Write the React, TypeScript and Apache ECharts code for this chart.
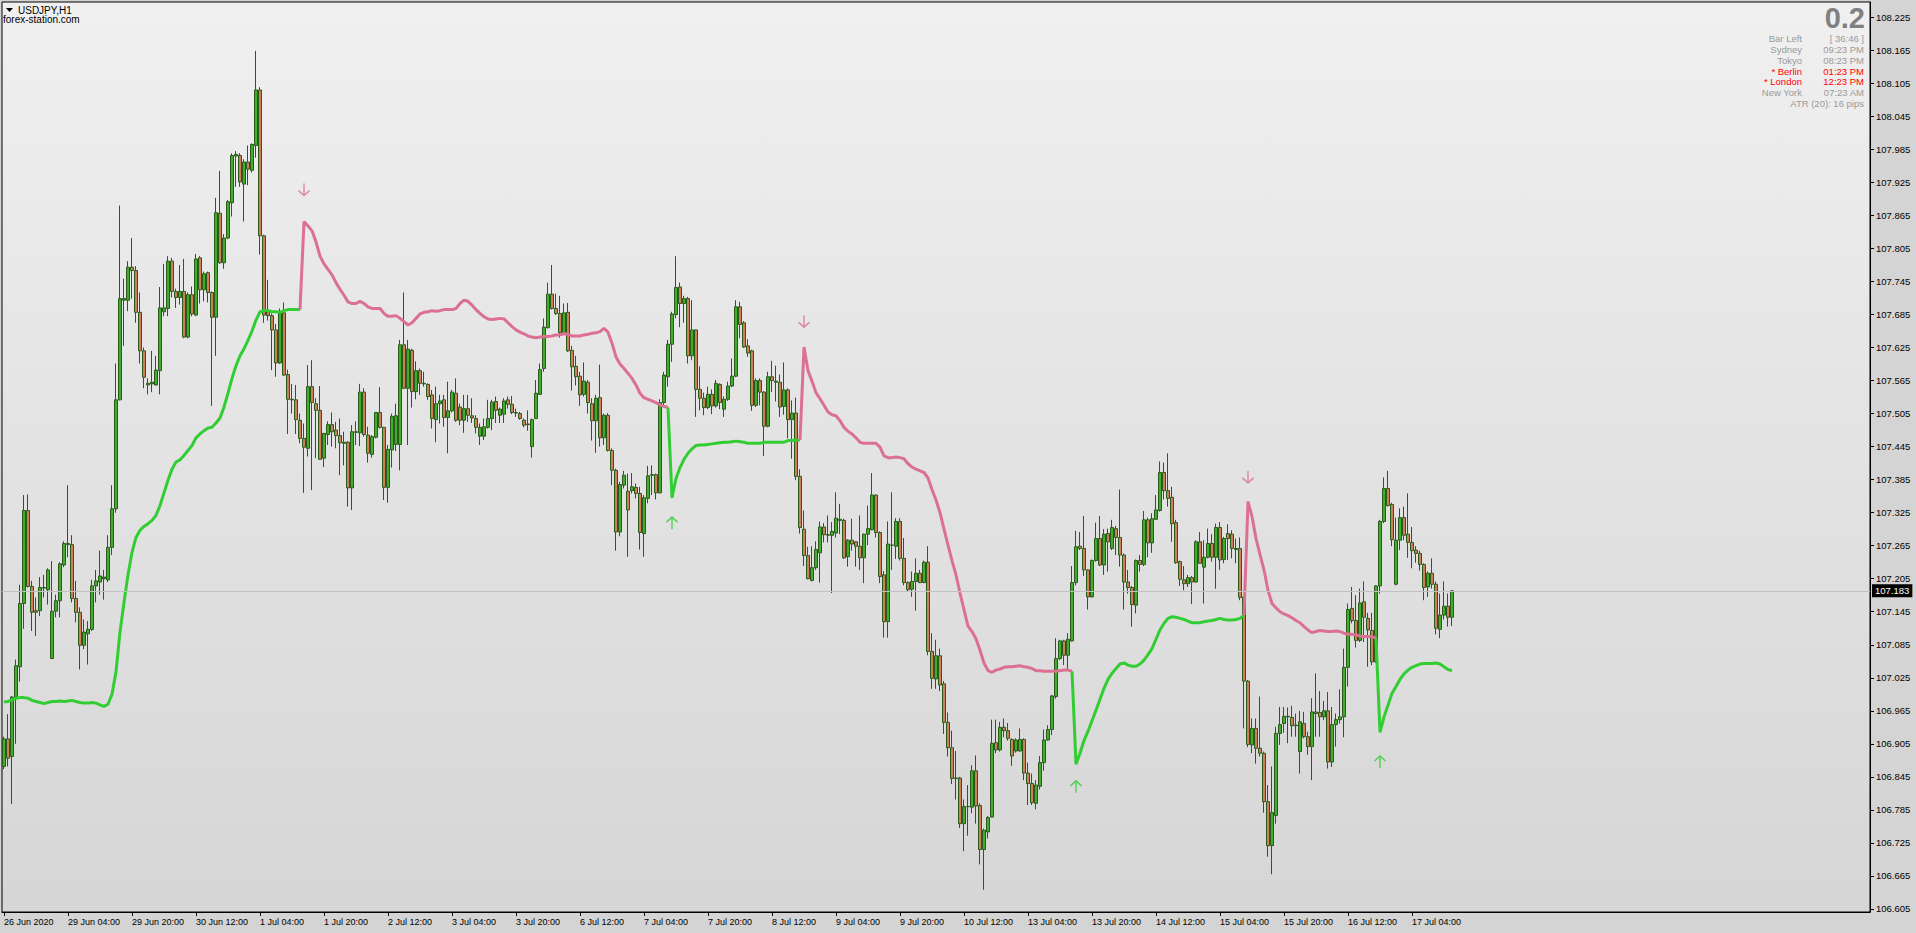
import React, { useEffect, useRef } from "react";
import * as echarts from "echarts";

// ---------- axis texts ----------
const xTickLabels = [
  "26 Jun 2020", "29 Jun 04:00", "29 Jun 20:00", "30 Jun 12:00", "1 Jul 04:00", "1 Jul 20:00",
  "2 Jul 12:00", "3 Jul 04:00", "3 Jul 20:00", "6 Jul 12:00", "7 Jul 04:00", "7 Jul 20:00",
  "8 Jul 12:00", "9 Jul 04:00", "9 Jul 20:00", "10 Jul 12:00", "13 Jul 04:00", "13 Jul 20:00",
  "14 Jul 12:00", "15 Jul 04:00", "15 Jul 20:00", "16 Jul 12:00", "17 Jul 04:00",
];
const TICK_EVERY = 16;
const SLOT_COUNT = 467;

const yTicks = [
  106.605, 106.665, 106.725, 106.785, 106.845, 106.905, 106.965, 107.025, 107.085, 107.145,
  107.205, 107.265, 107.325, 107.385, 107.445, 107.505, 107.565, 107.625, 107.685, 107.745,
  107.805, 107.865, 107.925, 107.985, 108.045, 108.105, 108.165, 108.225,
];
const Y_MIN = 106.5995;
const Y_MAX = 108.2528;

// ---------- OHLC (H1 bars) ----------
const opens = [
  106.864,106.914,106.882,106.990,107.045,107.160,107.329,107.191,107.147,107.147,
  107.189,107.185,107.060,107.146,107.165,107.230,107.269,107.267,107.169,107.144,
  107.084,107.105,107.113,107.192,107.199,107.205,107.203,107.262,107.332,107.530,
  107.711,107.711,107.771,107.765,107.689,107.619,107.560,107.559,107.557,107.583,
  107.690,107.696,107.782,107.727,107.716,107.727,107.644,107.721,107.684,107.788,
  107.730,107.761,107.725,107.680,107.869,107.779,107.824,107.888,107.973,107.974,
  107.922,107.962,107.947,107.992,108.093,107.828,107.690,107.683,107.657,107.597,
  107.688,107.576,107.531,107.530,107.493,107.460,107.442,107.554,107.523,107.511,
  107.424,107.467,107.485,107.475,107.465,107.453,107.453,107.370,107.472,107.470,
  107.544,107.466,107.431,107.462,107.507,107.480,107.371,107.439,107.449,107.449,
  107.630,107.551,107.620,107.545,107.583,107.560,107.558,107.539,107.494,107.523,
  107.530,107.498,107.510,107.542,107.517,107.493,107.514,107.501,107.496,107.464,
  107.464,107.480,107.496,107.527,107.502,107.504,107.530,107.522,107.507,107.505,
  107.493,107.486,107.445,107.496,107.540,107.587,107.661,107.722,107.696,107.687,
  107.652,107.689,107.620,107.591,107.573,107.540,107.562,107.523,107.492,107.534,
  107.461,107.502,107.438,107.402,107.290,107.375,107.364,107.365,107.371,107.360,
  107.287,107.351,107.393,107.394,107.361,107.525,107.572,107.631,107.685,107.735,
  107.705,107.714,107.610,107.657,107.549,107.533,107.516,107.540,107.519,107.558,
  107.513,107.531,107.555,107.573,107.699,107.670,107.628,107.619,107.520,107.565,
  107.544,107.482,107.572,107.564,107.562,107.518,107.548,107.494,107.506,107.391,
  107.295,107.247,107.202,107.225,107.252,107.299,107.285,107.284,107.288,107.311,
  107.311,107.245,107.275,107.272,107.264,107.243,107.286,107.294,107.357,107.289,
  107.212,107.127,107.266,107.264,107.309,107.242,107.198,107.186,107.200,107.215,
  107.198,107.235,107.073,107.023,107.065,107.014,106.944,106.898,106.842,106.843,
  106.760,106.791,106.790,106.856,106.793,106.713,106.745,106.772,106.907,106.894,
  106.935,106.929,106.913,106.892,106.892,106.913,106.852,106.833,106.797,106.828,
  106.871,106.912,106.931,106.991,107.060,107.092,107.066,107.092,107.198,107.264,
  107.260,107.221,107.172,107.238,107.278,107.230,107.287,107.260,107.296,107.280,
  107.248,107.199,107.189,107.157,107.238,107.231,107.312,107.270,107.313,107.329,
  107.398,107.365,107.353,107.307,107.236,107.203,107.196,107.207,107.199,107.272,
  107.226,107.244,107.269,107.244,107.298,107.240,107.287,107.286,107.260,107.260,
  107.172,107.019,106.903,106.933,106.897,106.888,106.800,106.720,106.775,106.924,
  106.942,106.954,106.953,106.939,106.891,106.942,106.918,106.900,106.963,106.962,
  106.954,106.965,106.872,106.940,106.949,106.954,107.044,107.151,107.129,107.093,
  107.163,107.133,107.111,107.054,107.192,107.309,107.369,107.340,107.195,107.275,
  107.316,107.286,107.271,107.257,107.251,107.231,107.190,107.215,107.195,107.113,
  107.139,107.155,107.135,
];
const highs = [
  106.918,106.959,106.992,107.058,107.194,107.357,107.358,107.201,107.171,107.208,
  107.212,107.224,107.237,107.176,107.235,107.273,107.375,107.284,107.201,107.153,
  107.131,107.128,107.203,107.221,107.256,107.221,107.284,107.375,107.596,107.883,
  107.750,107.782,107.824,107.773,107.725,107.625,107.569,107.619,107.610,107.735,
  107.777,107.791,107.788,107.732,107.775,107.786,107.725,107.736,107.795,107.791,
  107.763,107.763,107.727,107.897,107.946,107.831,107.893,107.978,107.982,107.978,
  107.967,107.992,107.996,108.164,108.098,107.830,107.748,107.687,107.668,107.696,
  107.707,107.585,107.559,107.557,107.505,107.487,107.593,107.602,107.533,107.555,
  107.470,107.491,107.507,107.490,107.496,107.472,107.455,107.484,107.491,107.559,
  107.551,107.481,107.466,107.508,107.553,107.481,107.448,107.505,107.523,107.639,
  107.725,107.639,107.623,107.600,107.587,107.581,107.560,107.548,107.554,107.539,
  107.539,107.563,107.548,107.569,107.523,107.539,107.539,107.533,107.502,107.487,
  107.496,107.530,107.530,107.536,107.516,107.533,107.536,107.537,107.514,107.508,
  107.496,107.511,107.496,107.566,107.596,107.678,107.743,107.775,107.723,107.719,
  107.705,107.706,107.628,107.610,107.581,107.598,107.566,107.533,107.539,107.594,
  107.505,107.506,107.442,107.405,107.381,107.401,107.396,107.397,107.378,107.372,
  107.357,107.410,107.411,107.396,107.531,107.581,107.639,107.690,107.791,107.743,
  107.719,107.717,107.711,107.658,107.591,107.543,107.554,107.549,107.566,107.560,
  107.536,107.563,107.605,107.711,107.708,107.673,107.640,107.621,107.569,107.569,
  107.546,107.581,107.601,107.592,107.576,107.598,107.551,107.529,107.534,107.404,
  107.329,107.263,107.264,107.273,107.309,107.306,107.320,107.308,107.362,107.341,
  107.314,107.277,107.314,107.273,107.320,107.287,107.338,107.397,107.358,107.291,
  107.219,107.309,107.362,107.315,107.315,107.279,107.200,107.218,107.242,107.221,
  107.238,107.264,107.106,107.094,107.078,107.019,106.962,106.929,106.892,106.845,
  106.804,106.830,106.866,106.884,106.797,106.751,106.774,106.949,106.949,106.945,
  106.951,106.943,106.915,106.915,106.933,106.915,106.871,106.851,106.839,106.883,
  106.931,106.939,106.994,107.097,107.094,107.094,107.106,107.228,107.292,107.290,
  107.319,107.222,107.240,107.307,107.319,107.295,107.296,107.312,107.301,107.367,
  107.251,107.221,107.192,107.240,107.248,107.328,107.316,107.324,107.357,107.418,
  107.416,107.433,107.372,107.312,107.238,107.228,107.212,107.210,107.275,107.290,
  107.275,107.296,107.286,107.305,107.308,107.281,107.304,107.293,107.278,107.280,
  107.175,107.021,106.951,106.951,106.991,106.891,106.830,106.864,106.936,106.972,
  106.972,106.971,106.974,106.960,106.965,106.963,106.927,106.988,107.033,107.001,
  106.983,106.999,106.972,106.960,107.004,107.078,107.160,107.190,107.175,107.187,
  107.200,107.143,107.143,107.193,107.312,107.389,107.401,107.343,107.316,107.333,
  107.336,107.360,107.299,107.264,107.256,107.233,107.218,107.242,107.200,107.178,
  107.200,107.178,107.184,
];
const lows = [
  106.859,106.864,106.796,106.905,107.018,107.114,107.189,107.110,107.101,107.137,
  107.171,107.158,107.060,107.135,107.135,107.226,107.244,107.162,107.126,107.040,
  107.077,107.049,107.110,107.162,107.176,107.167,107.199,107.248,107.325,107.529,
  107.628,107.691,107.714,107.670,107.596,107.551,107.540,107.544,107.556,107.540,
  107.682,107.682,107.716,107.697,107.703,107.642,107.642,107.682,107.682,107.705,
  107.709,107.707,107.519,107.610,107.777,107.768,107.822,107.863,107.917,107.917,
  107.854,107.920,107.943,107.970,107.794,107.670,107.674,107.584,107.572,107.595,
  107.573,107.468,107.505,107.468,107.451,107.361,107.427,107.366,107.424,107.421,
  107.408,107.448,107.445,107.442,107.393,107.411,107.336,107.330,107.448,107.446,
  107.463,107.416,107.425,107.460,107.478,107.348,107.343,107.407,107.437,107.402,
  107.550,107.448,107.516,107.531,107.539,107.554,107.530,107.478,107.453,107.487,
  107.481,107.433,107.507,107.490,107.484,107.470,107.490,107.488,107.469,107.448,
  107.457,107.478,107.475,107.488,107.488,107.488,107.514,107.504,107.499,107.494,
  107.480,107.474,107.425,107.495,107.539,107.581,107.660,107.694,107.684,107.643,
  107.649,107.617,107.547,107.556,107.519,107.536,107.505,107.456,107.434,107.445,
  107.448,107.436,107.375,107.256,107.282,107.369,107.245,107.360,107.351,107.258,
  107.245,107.342,107.357,107.349,107.360,107.518,107.554,107.599,107.678,107.662,
  107.670,107.596,107.602,107.499,107.511,107.502,107.513,107.504,107.516,107.513,
  107.499,107.528,107.553,107.571,107.642,107.624,107.608,107.510,107.517,107.520,
  107.428,107.480,107.544,107.527,107.499,107.503,107.460,107.423,107.384,107.287,
  107.228,107.204,107.200,107.221,107.198,107.271,107.271,107.179,107.280,107.286,
  107.241,107.227,107.256,107.227,107.221,107.197,107.266,107.293,107.280,107.197,
  107.098,107.098,107.221,107.241,107.238,107.193,107.181,107.172,107.147,107.197,
  107.197,107.066,107.005,107.005,107.001,106.923,106.882,106.832,106.804,106.752,
  106.710,106.738,106.779,106.760,106.686,106.640,106.733,106.771,106.888,106.891,
  106.917,106.911,106.865,106.889,106.891,106.839,106.794,106.794,106.786,106.822,
  106.856,106.911,106.921,106.987,107.057,107.048,107.039,107.091,107.193,107.257,
  107.210,107.149,107.171,107.236,107.228,107.212,107.218,107.257,107.248,107.227,
  107.149,107.178,107.118,107.142,107.218,107.228,107.244,107.252,107.312,107.327,
  107.349,107.336,107.272,107.232,107.192,107.184,107.190,107.159,107.198,107.232,
  107.160,107.242,107.236,107.187,107.221,107.233,107.239,107.242,107.233,107.166,
  106.933,106.899,106.888,106.869,106.882,106.780,106.700,106.668,106.760,106.903,
  106.925,106.906,106.918,106.918,106.851,106.915,106.885,106.839,106.918,106.918,
  106.948,106.860,106.863,106.900,106.942,106.917,107.009,107.124,107.080,107.090,
  107.090,107.045,107.048,107.052,107.178,107.306,107.336,107.264,107.193,107.257,
  107.275,107.243,107.224,107.234,107.220,107.166,107.172,107.187,107.104,107.097,
  107.131,107.118,107.119,
];
const closes = [
  106.914,106.879,106.990,107.047,107.160,107.329,107.191,107.144,107.144,107.189,
  107.188,107.221,107.146,107.165,107.232,107.269,107.267,107.169,107.144,107.084,
  107.108,107.113,107.192,107.201,107.210,107.208,107.262,107.332,107.530,107.714,
  107.714,107.771,107.765,107.689,107.619,107.571,107.557,107.562,107.584,107.697,
  107.697,107.782,107.727,107.716,107.727,107.644,107.721,107.686,107.786,107.730,
  107.759,107.725,107.680,107.870,107.779,107.824,107.890,107.974,107.976,107.926,
  107.962,107.949,107.994,108.093,107.828,107.684,107.683,107.657,107.597,107.687,
  107.575,107.531,107.530,107.494,107.460,107.444,107.554,107.525,107.511,107.422,
  107.469,107.485,107.472,107.465,107.452,107.451,107.370,107.472,107.471,107.544,
  107.467,107.433,107.463,107.507,107.480,107.371,107.440,107.500,107.501,107.630,
  107.551,107.622,107.545,107.583,107.560,107.559,107.536,107.496,107.523,107.528,
  107.498,107.510,107.544,107.493,107.493,107.514,107.502,107.497,107.480,107.480,
  107.481,107.496,107.526,107.511,107.513,107.528,107.522,107.507,107.506,107.496,
  107.484,107.485,107.494,107.542,107.585,107.662,107.722,107.696,107.687,107.652,
  107.688,107.619,107.590,107.572,107.539,107.564,107.525,107.492,107.533,107.461,
  107.502,107.438,107.402,107.290,107.376,107.393,107.330,107.372,107.360,107.289,
  107.352,107.392,107.394,107.361,107.525,107.575,107.631,107.686,107.734,107.705,
  107.714,107.610,107.657,107.549,107.533,107.516,107.540,107.519,107.560,107.525,
  107.531,107.555,107.573,107.699,107.667,107.626,107.615,107.520,107.565,107.544,
  107.482,107.572,107.565,107.562,107.517,107.548,107.494,107.506,107.391,107.298,
  107.247,107.205,107.225,107.258,107.299,107.285,107.284,107.291,107.315,107.313,
  107.243,107.275,107.268,107.264,107.243,107.286,107.296,107.357,107.289,107.209,
  107.127,107.268,107.266,107.309,107.242,107.198,107.185,107.200,107.215,107.198,
  107.235,107.073,107.024,107.065,107.012,106.944,106.898,106.842,106.843,106.760,
  106.791,106.791,106.856,106.792,106.713,106.748,106.771,106.906,106.894,106.935,
  106.929,106.915,106.883,106.912,106.913,106.852,106.833,106.798,106.830,106.871,
  106.912,106.931,106.992,107.060,107.092,107.066,107.095,107.198,107.263,107.260,
  107.221,107.172,107.238,107.278,107.230,107.286,107.272,107.298,107.280,107.248,
  107.199,107.189,107.158,107.238,107.231,107.312,107.270,107.314,107.330,107.398,
  107.365,107.351,107.305,107.234,107.204,107.196,107.207,107.199,107.272,107.233,
  107.244,107.269,107.244,107.298,107.239,107.278,107.278,107.260,107.258,107.171,
  107.019,106.904,106.933,106.897,106.888,106.800,106.720,106.780,106.924,106.940,
  106.955,106.955,106.938,106.938,106.945,106.918,106.900,106.963,106.960,106.954,
  106.965,106.872,106.940,106.949,106.954,107.044,107.149,107.129,107.093,107.161,
  107.135,107.112,107.054,107.192,107.309,107.369,107.338,107.276,107.275,107.316,
  107.284,107.271,107.256,107.251,107.231,107.189,107.215,107.195,107.115,107.139,
  107.155,107.135,107.183,
];

// ---------- trend indicator lines (start index + values) ----------
const greenSeg1Start = 0;
const greenSeg1 = [
  106.981,106.982,106.985,106.988,106.989,106.989,106.988,106.984,106.982,106.980,
  106.978,106.980,106.982,106.982,106.983,106.982,106.983,106.984,106.982,106.980,
  106.979,106.979,106.980,106.979,106.976,106.973,106.977,106.995,107.036,107.108,
  107.162,107.212,107.253,107.280,107.293,107.300,107.305,107.311,107.320,107.338,
  107.361,107.384,107.404,107.417,107.421,107.429,107.438,107.447,107.461,107.468,
  107.474,107.479,107.480,107.488,107.497,107.517,107.542,107.569,107.592,107.610,
  107.623,107.638,107.655,107.675,107.690,107.693,107.692,107.690,107.690,107.689,
  107.692,107.694,107.694,107.694,107.694,
];
const greenSeg2Start = 166;
const greenSeg2 = [
  107.516,107.352,107.387,107.407,107.422,107.433,107.441,107.447,107.448,107.448,
  107.449,107.450,107.451,107.452,107.453,107.453,107.454,107.455,107.454,107.453,
  107.451,107.451,107.451,107.451,107.453,107.453,107.453,107.453,107.453,107.453,
  107.456,107.456,107.457,107.457,
];
const greenSeg3Start = 267;
const greenSeg3 = [
  107.037,106.868,106.888,106.911,106.928,106.947,106.966,106.986,107.006,107.022,
  107.033,107.042,107.050,107.052,107.048,107.046,107.046,107.050,107.057,107.067,
  107.078,107.095,107.112,107.124,107.133,107.136,107.135,107.133,107.131,107.128,
  107.125,107.125,107.125,107.127,107.128,107.129,107.131,107.133,107.131,107.130,
  107.130,107.131,107.133,107.139,
];
const greenSeg4Start = 343;
const greenSeg4 = [
  107.097,106.926,106.954,106.975,106.997,107.009,107.022,107.032,107.039,107.044,
  107.047,107.050,107.051,107.051,107.051,107.052,107.050,107.045,107.040,107.038,
];
const pinkSeg1Start = 74;
const pinkSeg1 = [
  107.694,
  107.854,107.846,107.837,107.817,107.791,107.777,107.767,107.757,107.743,107.731,
  107.720,107.708,107.705,107.705,107.709,107.705,107.699,107.696,107.696,107.696,
  107.687,107.682,107.682,107.683,107.678,107.672,107.666,107.670,107.678,107.686,
  107.689,107.690,107.692,107.691,107.692,107.694,107.694,107.694,107.696,107.705,
  107.711,107.709,107.702,107.694,107.687,107.681,107.677,107.676,107.677,107.678,
  107.677,107.670,107.663,107.657,107.653,107.650,107.646,107.644,107.643,107.644,
  107.645,107.645,107.646,107.648,107.648,107.650,107.649,107.646,107.646,107.646,
  107.648,107.649,107.651,107.652,107.654,107.660,107.653,107.633,107.608,107.595,
  107.587,107.578,107.569,107.557,107.542,107.534,107.531,107.528,107.525,107.521,
  107.518,107.516,
];
const pinkSeg2Start = 199;
const pinkSeg2 = [
  107.457,
  107.626,107.583,107.564,107.543,107.532,107.520,107.508,107.503,107.501,107.492,
  107.480,107.473,107.468,107.461,107.453,107.451,107.451,107.451,107.451,107.444,
  107.428,107.425,107.425,107.426,107.425,107.423,107.414,107.408,107.404,107.401,
  107.398,107.388,107.367,107.348,107.325,107.295,107.266,107.238,107.212,107.179,
  107.149,107.119,107.109,107.096,107.075,
  107.052,107.038,107.035,107.039,107.041,107.044,107.045,107.045,107.046,107.047,
  107.045,107.044,107.042,107.038,107.038,107.037,107.037,107.037,107.037,107.038,
  107.039,107.039,107.037,
];
const pinkSeg3Start = 310;
const pinkSeg3 = [
  107.139,
  107.345,107.318,107.278,107.249,107.221,107.184,107.160,107.152,107.145,107.141,
  107.138,107.134,107.129,107.125,107.118,107.112,107.107,107.109,107.111,107.110,
  107.109,107.109,107.110,107.109,107.106,107.104,107.104,107.103,107.101,107.100,
  107.100,107.100,107.097,
];

// ---------- signal arrows [bar index, price] ----------
const sellArrows = [[75, 107.912], [200, 107.673], [311, 107.390]];
const buyArrows = [[167, 107.306], [268, 106.827], [344, 106.872]];

// ---------- info panel ----------
const symbolTitle = "USDJPY,H1";
const siteName = "forex-station.com";
const spreadText = "0.2";
const infoLabels = ["Bar Left", "Sydney", "Tokyo", "* Berlin", "* London", "New York"];
const infoValues = ["[ 36:46 ]", "09:23 PM", "08:23 PM", "01:23 PM", "12:23 PM", "07:23 AM"];
const infoOpen = [false, false, false, true, true, false];
const atrText = "ATR (20): 16 pips";

const FONT = "'Liberation Sans', Arial, sans-serif";
const PINK = "#db7093";
const LIME = "#32cd32";

function buildLine(segs: { start: number; values: number[] }[], n: number) {
  const out: (number | null)[] = new Array(n).fill(null);
  segs.forEach((s) => s.values.forEach((v, k) => { out[s.start + k] = v; }));
  return out;
}

export default function App() {
  const ref = useRef<HTMLDivElement>(null);

  useEffect(() => {
    document.body.style.margin = "0";
    if (!ref.current) return;
    const chart = echarts.init(ref.current, undefined, { renderer: "svg" });

    const n = closes.length;
    const categories = Array.from({ length: SLOT_COUNT }, (_, i) => String(i));
    const candles = opens.map((o, i) => [o, closes[i], lows[i], highs[i]]);
    const green = buildLine(
      [
        { start: greenSeg1Start, values: greenSeg1 },
        { start: greenSeg2Start, values: greenSeg2 },
        { start: greenSeg3Start, values: greenSeg3 },
        { start: greenSeg4Start, values: greenSeg4 },
      ],
      n
    );
    const pink = buildLine(
      [
        { start: pinkSeg1Start, values: pinkSeg1 },
        { start: pinkSeg2Start, values: pinkSeg2 },
        { start: pinkSeg3Start, values: pinkSeg3 },
      ],
      n
    );
    const lastClose = closes[n - 1];
    const showTick = (idx: number) => idx % TICK_EVERY === 0 && idx / TICK_EVERY < xTickLabels.length;

    const grayText = "#9a9a9a";
    const graphics: any[] = [
      { type: "polygon", shape: { points: [[6, 8], [13, 8], [9.5, 12]] }, style: { fill: "#000" }, z: 100 },
      { type: "text", x: 18, y: 10, style: { text: symbolTitle, font: `10px ${FONT}`, fill: "#000", verticalAlign: "middle" }, z: 100 },
      { type: "text", x: 3, y: 19.5, style: { text: siteName, font: `10px ${FONT}`, fill: "#000", verticalAlign: "middle" }, z: 100 },
      { type: "text", x: 1865, y: 18, style: { text: spreadText, font: `bold 29px ${FONT}`, fill: "#808080", align: "right", verticalAlign: "middle" }, z: 100 },
    ];
    infoLabels.forEach((lab, k) => {
      const col = infoOpen[k] ? "#ff0000" : grayText;
      const y = 38.7 + k * 10.8;
      graphics.push({ type: "text", x: 1802, y, style: { text: lab, font: `9.5px ${FONT}`, fill: col, align: "right", verticalAlign: "middle" }, z: 100 });
      graphics.push({ type: "text", x: 1864, y, style: { text: infoValues[k], font: `9.5px ${FONT}`, fill: col, align: "right", verticalAlign: "middle" }, z: 100 });
    });
    graphics.push({ type: "text", x: 1864, y: 38.7 + 6 * 10.8, style: { text: atrText, font: `9.5px ${FONT}`, fill: grayText, align: "right", verticalAlign: "middle" }, z: 100 });

    chart.setOption({
      animation: false,
      backgroundColor: "#d4d4d4",
      textStyle: { fontFamily: FONT },
      grid: {
        left: 2, top: 2, right: 46, bottom: 21,
        show: true,
        borderColor: "#000",
        borderWidth: 1,
        backgroundColor: new echarts.graphic.LinearGradient(0, 0, 0, 1, [
          { offset: 0, color: "#f0f0f0" },
          { offset: 1, color: "#d6d6d6" },
        ]),
      },
      xAxis: {
        type: "category",
        data: categories,
        boundaryGap: true,
        axisLine: { show: true, lineStyle: { color: "#000", width: 1 } },
        axisTick: { show: true, alignWithLabel: true, length: 4, interval: showTick, lineStyle: { color: "#000" } },
        axisLabel: {
          interval: showTick,
          formatter: (_v: string, idx: number) => xTickLabels[idx / TICK_EVERY] ?? "",
          align: "left",
          margin: 5,
          fontSize: 9,
          color: "#000",
          fontFamily: FONT,
        },
        splitLine: { show: false },
      },
      yAxis: {
        type: "value",
        position: "right",
        min: Y_MIN,
        max: Y_MAX,
        scale: true,
        axisLine: { show: true, lineStyle: { color: "#000", width: 1 } },
        axisTick: { show: true, length: 4, customValues: yTicks, lineStyle: { color: "#000" } },
        axisLabel: {
          customValues: yTicks,
          formatter: (v: number) => v.toFixed(3),
          margin: 6,
          fontSize: 9.5,
          color: "#000",
          fontFamily: FONT,
        },
        splitLine: { show: false },
      },
      series: [
        {
          type: "candlestick",
          data: candles,
          barWidth: 3,
          z: 2,
          itemStyle: {
            color: "#3fae2b",
            color0: "#cf7f55",
            borderColor: "#2b5a1c",
            borderColor0: "#2b5a1c",
            borderColorDoji: "#2b5a1c",
            borderWidth: 1,
          },
          markLine: {
            silent: true,
            precision: 3,
            symbol: ["none", "none"],
            lineStyle: { color: "#c0c0c0", width: 1, type: "solid" },
            label: {
              show: true,
              position: "end",
              distance: 2,
              formatter: () => lastClose.toFixed(3),
              backgroundColor: "#000",
              color: "#fff",
              padding: [2, 3, 1, 3],
              fontSize: 9.5,
              fontFamily: FONT,
            },
            data: [{ yAxis: lastClose }],
          },
        },
        {
          type: "line",
          data: green,
          showSymbol: false,
          symbol: "none",
          connectNulls: false,
          lineStyle: { color: LIME, width: 3 },
          z: 3,
        },
        {
          type: "line",
          data: pink,
          showSymbol: false,
          symbol: "none",
          connectNulls: false,
          lineStyle: { color: PINK, width: 3 },
          z: 3,
        },
        {
          type: "scatter",
          data: sellArrows,
          symbol: "path://M5,0L5,12M0,7L5,12L10,7",
          symbolSize: [11, 12],
          itemStyle: { color: "rgba(0,0,0,0)", borderColor: PINK, borderWidth: 1.5 },
          z: 4,
        },
        {
          type: "scatter",
          data: buyArrows,
          symbol: "path://M5,12L5,0M0,5L5,0L10,5",
          symbolSize: [11, 12],
          itemStyle: { color: "rgba(0,0,0,0)", borderColor: LIME, borderWidth: 1.5 },
          z: 4,
        },
      ],
      graphic: graphics,
    });

    return () => chart.dispose();
  }, []);

  return <div ref={ref} style={{ width: 1916, height: 933 }} />;
}
